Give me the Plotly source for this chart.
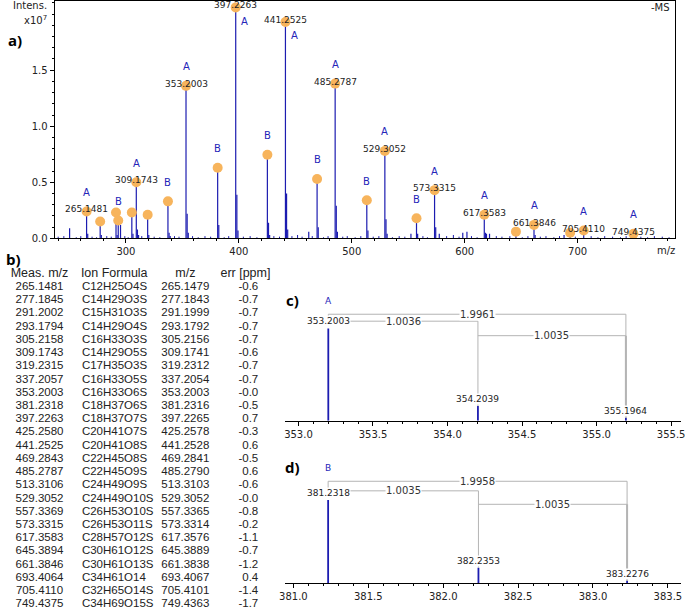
import plotly.graph_objects as go

W, H = 685, 616

# ---------------- Panel a: full spectrum (intensity x10^7) ----------------
peak_mz = [265.1481, 277.1845, 291.2002, 293.1794, 305.2158, 309.1743, 319.2315,
           337.2057, 353.2003, 381.2318, 397.2263, 425.2580, 441.2525, 469.2843,
           485.2787, 513.3106, 529.3052, 557.3369, 573.3315, 617.3583, 645.3894,
           661.3846, 693.4064, 705.4110, 749.4375]
peak_int = [0.24, 0.15, 0.23, 0.16, 0.23, 0.50, 0.21, 0.33, 1.36, 0.63, 2.06, 0.745,
            1.93, 0.53, 1.38, 0.34, 0.78, 0.18, 0.43, 0.21, 0.06, 0.12, 0.05, 0.07, 0.04]
peak_series = ["A", "", "", "B", "", "A", "", "B", "A", "B", "A", "B", "A", "B",
               "A", "B", "A", "B", "A", "A", "", "A", "", "A", "A"]

# isotope / minor peaks
minor_mz = [250.1, 266.15, 278.19, 292.2, 295.2, 306.22, 310.18, 311.17, 320.23,
            338.21, 339.2, 354.20, 355.2, 382.23, 398.23, 399.22, 426.26, 427.25,
            442.26, 443.25, 461.9, 470.29, 486.28, 487.27, 514.31, 530.31, 531.3,
            552.4, 558.34, 574.34, 577.5, 598.3, 602.0, 618.36, 619.3, 622.0, 662.39,
            688.0]
minor_int = [0.09, 0.04, 0.03, 0.03, 0.12, 0.04, 0.08, 0.03, 0.03,
             0.05, 0.02, 0.22, 0.05, 0.12, 0.39, 0.07, 0.14, 0.03,
             0.40, 0.08, 0.06, 0.10, 0.29, 0.06, 0.07, 0.17, 0.04,
             0.04, 0.04, 0.10, 0.04, 0.05, 0.06, 0.05, 0.04, 0.04, 0.03,
             0.03]

noise_mz = [240, 245, 256, 260, 270, 274, 283, 287, 299, 302, 314, 325, 330, 343,
            347, 359, 364, 370, 375, 387, 391, 404, 410, 416, 431, 436, 447, 452,
            456, 465, 475, 479, 492, 496, 503, 508, 519, 524, 536, 542, 547, 563,
            567, 584, 590, 595, 606, 611, 628, 633, 640, 651, 656, 667, 672, 679,
            684, 698, 712, 718, 724, 731, 738, 743, 756, 762, 768, 775, 781]
noise_int = [0.015, 0.02, 0.01, 0.02, 0.015, 0.01, 0.02, 0.015, 0.02, 0.01, 0.02,
             0.015, 0.01, 0.02, 0.015, 0.02, 0.01, 0.02, 0.015, 0.01, 0.02, 0.015,
             0.02, 0.01, 0.02, 0.015, 0.02, 0.03, 0.015, 0.02, 0.01, 0.02, 0.015,
             0.02, 0.01, 0.02, 0.015, 0.02, 0.01, 0.02, 0.015, 0.02, 0.01, 0.02,
             0.03, 0.015, 0.02, 0.01, 0.02, 0.015, 0.02, 0.01, 0.02, 0.015, 0.02,
             0.01, 0.02, 0.015, 0.02, 0.01, 0.02, 0.015, 0.01, 0.02, 0.015, 0.01,
             0.02, 0.015, 0.01]

a_xticks = [300, 400, 500, 600, 700]
a_yticks = [0.0, 0.5, 1.0, 1.5]

# ---------------- Panel b: table ----------------
ion_formula = ["C12H25O4S", "C14H29O3S", "C15H31O3S", "C14H29O4S", "C16H33O3S",
               "C14H29O5S", "C17H35O3S", "C16H33O5S", "C16H33O6S", "C18H37O6S",
               "C18H37O7S", "C20H41O7S", "C20H41O8S", "C22H45O8S", "C22H45O9S",
               "C24H49O9S", "C24H49O10S", "C26H53O10S", "C26H53O11S", "C28H57O12S",
               "C30H61O12S", "C30H61O13S", "C34H61O14", "C32H65O14S", "C34H69O15S"]
calc_mz = [265.1479, 277.1843, 291.1999, 293.1792, 305.2156, 309.1741, 319.2312,
           337.2054, 353.2003, 381.2316, 397.2265, 425.2578, 441.2528, 469.2841,
           485.2790, 513.3103, 529.3052, 557.3365, 573.3314, 617.3576, 645.3889,
           661.3838, 693.4067, 705.4101, 749.4363]
err_ppm = ["-0.6", "-0.7", "-0.7", "-0.7", "-0.7", "-0.6", "-0.7", "-0.7", "-0.0",
           "-0.5", "0.7", "-0.3", "0.6", "-0.5", "0.6", "-0.6", "-0.0", "-0.8",
           "-0.2", "-1.1", "-0.7", "-1.2", "0.4", "-1.4", "-1.7"]
table_headers = ["Meas. m/z", "Ion Formula", "m/z", "err [ppm]"]

# ---------------- Panels c, d: isotope patterns (relative intensity) ----------------
c_mz = [353.2003, 354.2039, 355.1964]
c_int = [100, 16, 3.5]
c_label = "A"
c_diff = ["1.9961", "1.0036", "1.0035"]
d_mz = [381.2318, 382.2353, 383.2276]
d_int = [100, 18.7, 2.7]
d_label = "B"
d_diff = ["1.9958", "1.0035", "1.0035"]
c_xticks = [353.0, 353.5, 354.0, 354.5, 355.0, 355.5]
d_xticks = [381.0, 381.5, 382.0, 382.5, 383.0, 383.5]

# ---------------- styles ----------------
BLUE = "#1c1cb0"
LABEL_BLUE = "#2424b8"
ORANGE = "#f7b45c"
GRAY = "#b4b4b4"
TXT = "#222222"
SPEC_FONT = "DejaVu Sans"
TAB_FONT = "Liberation Sans"


def px_x(p):
    return p / W


def px_y(p):
    return 1 - p / H


def sticks(mzs, ints):
    xs, ys = [], []
    for m, h in zip(mzs, ints):
        xs += [m, m, None]
        ys += [0, h, None]
    return xs, ys


fig = go.Figure()

# ---- panel a traces
nx, ny = sticks(noise_mz, noise_int)
fig.add_trace(go.Scatter(x=nx, y=ny, mode="lines", line=dict(color=BLUE, width=1),
                         xaxis="x", yaxis="y", hoverinfo="skip"))
mx, my = sticks(minor_mz, minor_int)
fig.add_trace(go.Scatter(x=mx, y=my, mode="lines", line=dict(color=BLUE, width=1.2),
                         xaxis="x", yaxis="y", hoverinfo="skip"))
px_, py_ = sticks(peak_mz, peak_int)
fig.add_trace(go.Scatter(x=px_, y=py_, mode="lines", line=dict(color=BLUE, width=1.2),
                         xaxis="x", yaxis="y", hoverinfo="skip"))
fig.add_trace(go.Scatter(x=peak_mz, y=peak_int, mode="markers",
                         marker=dict(color=ORANGE, size=10, line=dict(width=0)),
                         xaxis="x", yaxis="y"))

annotations = []
for m, h, s in zip(peak_mz, peak_int, peak_series):
    if s == "A":
        annotations.append(dict(x=m, y=h, xref="x", yref="y", text=f"{m:.4f}",
                                showarrow=False, yshift=2,
                                font=dict(family=SPEC_FONT, size=9, color=TXT)))
    if s:
        big = h > 1.8
        annotations.append(dict(x=m, y=h, xref="x", yref="y", text=s, showarrow=False,
                                xshift=9 if big else 0, yshift=-14 if big else 19,
                                font=dict(family=SPEC_FONT, size=10, color=LABEL_BLUE)))

# ---- panel c / d traces
for mzs, ints, xa, ya in [(c_mz, c_int, "x2", "y2"), (d_mz, d_int, "x3", "y3")]:
    sx, sy = sticks(mzs, ints)
    fig.add_trace(go.Scatter(x=sx, y=sy, mode="lines", line=dict(color=BLUE, width=1.8),
                             xaxis=xa, yaxis=ya, hoverinfo="skip"))

shapes = []


def isotope_panel(mzs, ints, diffs, label, xa, ya, lv02, lv01, lv12, lab_shift):
    ln = dict(color=GRAY, width=1)
    # bracket 0 -> 2
    shapes.append(dict(type="line", xref=xa, yref=ya, x0=mzs[0], x1=mzs[2], y0=lv02, y1=lv02, line=ln))
    shapes.append(dict(type="line", xref=xa, yref=ya, x0=mzs[0], x1=mzs[0], y0=lv02, y1=lv01, line=ln))
    shapes.append(dict(type="line", xref=xa, yref=ya, x0=mzs[2], x1=mzs[2], y0=lv02, y1=ints[2], line=ln))
    # bracket 0 -> 1
    shapes.append(dict(type="line", xref=xa, yref=ya, x0=mzs[0], x1=mzs[1], y0=lv01, y1=lv01, line=ln))
    shapes.append(dict(type="line", xref=xa, yref=ya, x0=mzs[1], x1=mzs[1], y0=lv01, y1=ints[1], line=ln))
    # bracket 1 -> 2
    shapes.append(dict(type="line", xref=xa, yref=ya, x0=mzs[1], x1=mzs[2], y0=lv12, y1=lv12, line=ln))
    shapes.append(dict(type="line", xref=xa, yref=ya, x0=mzs[2], x1=mzs[2], y0=lv12, y1=ints[2],
                       line=dict(color=GRAY, width=2)))
    for (i, j), txt, lv in zip([(0, 2), (0, 1), (1, 2)], diffs, [lv02, lv01, lv12]):
        annotations.append(dict(x=(mzs[i] + mzs[j]) / 2, y=lv, xref=xa, yref=ya, text=txt,
                                showarrow=False, bgcolor="white", borderpad=0,
                                font=dict(family=SPEC_FONT, size=10, color="#333333")))
    for m, h in zip(mzs, ints):
        annotations.append(dict(x=m, y=h, xref=xa, yref=ya, text=f"{m:.4f}", showarrow=False,
                                yshift=7, bgcolor="white", borderpad=0,
                                font=dict(family=SPEC_FONT, size=9, color=TXT)))
    annotations.append(dict(x=mzs[0], y=ints[0], xref=xa, yref=ya, text=label, showarrow=False,
                            yshift=lab_shift, font=dict(family=SPEC_FONT, size=9, color=LABEL_BLUE)))


isotope_panel(c_mz, c_int, c_diff, c_label, "x2", "y2", 115.4, 107.9, 92.2, 27)
isotope_panel(d_mz, d_int, d_diff, d_label, "x3", "y3", 122.6, 111.1, 94.9, 32)

# ---- panel b table (text on a hidden pixel-like axis, row index on y)
rows = list(range(len(peak_mz)))
tfont = dict(family=TAB_FONT, size=11.5, color=TXT)
fig.add_trace(go.Scatter(x=[34] * len(rows), y=rows, text=[f"{m:.4f}" for m in peak_mz],
                         mode="text", textposition="middle center", textfont=tfont,
                         xaxis="x4", yaxis="y4", hoverinfo="skip"))
fig.add_trace(go.Scatter(x=[77] * len(rows), y=rows, text=ion_formula,
                         mode="text", textposition="middle right", textfont=tfont,
                         xaxis="x4", yaxis="y4", hoverinfo="skip"))
fig.add_trace(go.Scatter(x=[182] * len(rows), y=rows, text=[f"{m:.4f}" for m in calc_mz],
                         mode="text", textposition="middle center", textfont=tfont,
                         xaxis="x4", yaxis="y4", hoverinfo="skip"))
fig.add_trace(go.Scatter(x=[256] * len(rows), y=rows, text=err_ppm,
                         mode="text", textposition="middle left", textfont=tfont,
                         xaxis="x4", yaxis="y4", hoverinfo="skip"))
hfont = dict(family=TAB_FONT, size=12.5, color=TXT)
fig.add_trace(go.Scatter(x=[34, 182, 243], y=[-1, -1, -1],
                         text=[table_headers[0], table_headers[2], table_headers[3]],
                         mode="text", textposition="middle center", textfont=hfont,
                         xaxis="x4", yaxis="y4", hoverinfo="skip"))
fig.add_trace(go.Scatter(x=[76], y=[-1], text=[table_headers[1]],
                         mode="text", textposition="middle right", textfont=hfont,
                         xaxis="x4", yaxis="y4", hoverinfo="skip"))

# ---- texts
pfont = dict(family="Open Sans", size=15, color="black", weight="bold")
for txt, x, y in [("a)", 9, 40), ("b)", 8, 262), ("c)", 291, 303), ("d)", 291, 472)]:
    annotations.append(dict(x=px_x(x), y=px_y(y), xref="paper", yref="paper", text=txt,
                            showarrow=False, xanchor="center", yanchor="middle", font=pfont))
sfont = dict(family=SPEC_FONT, size=10, color=TXT)
annotations += [
    dict(x=px_x(44), y=px_y(6), xref="paper", yref="paper", text="Intens.", showarrow=False,
         xanchor="right", yanchor="middle", font=sfont),
    dict(x=px_x(44), y=px_y(20), xref="paper", yref="paper", text="x10<sup>7</sup>",
         showarrow=False, xanchor="right", yanchor="middle", font=sfont),
    dict(x=px_x(676), y=px_y(8), xref="paper", yref="paper", text="-MS", showarrow=False,
         xanchor="right", yanchor="middle", font=sfont),
    dict(x=px_x(670), y=px_y(253), xref="paper", yref="paper", text="m/z", showarrow=False,
         xanchor="center", yanchor="middle", font=sfont),
]

tickfont = dict(family=SPEC_FONT, size=10, color=TXT)
common_x = dict(showgrid=False, zeroline=False, showline=True, linecolor="black", linewidth=1,
                ticks="outside", ticklen=4, tickcolor="black", tickfont=tickfont,
                ticklabeloverflow="allow")

fig.update_layout(
    width=W, height=H, margin=dict(l=0, r=0, t=0, b=0),
    paper_bgcolor="white", plot_bgcolor="rgba(0,0,0,0)", showlegend=False,
    xaxis=dict(domain=[px_x(49.3), px_x(679.3)], range=[236.8, 786.6], tickvals=a_xticks,
               mirror=True, anchor="y",
               minor=dict(dtick=20, ticks="outside", ticklen=2, tickcolor="black"), **common_x),
    yaxis=dict(domain=[px_y(240.7), px_y(1)], range=[0, 2.117], tickvals=a_yticks,
               tickformat=".1f", showgrid=False, zeroline=False, showline=True,
               linecolor="black", mirror=True, ticks="outside", ticklen=4, tickcolor="black",
               tickfont=tickfont, anchor="x",
               minor=dict(dtick=0.1, ticks="outside", ticklen=2, tickcolor="black")),
    xaxis2=dict(domain=[px_x(283), 1.0], range=[352.909, 355.566], tickvals=c_xticks,
                tickformat=".1f", anchor="y2",
                minor=dict(dtick=0.1, ticks="outside", ticklen=2, tickcolor="black"), **common_x),
    yaxis2=dict(domain=[px_y(425), px_y(290)], range=[0, 144.7], visible=False, anchor="x2"),
    xaxis3=dict(domain=[px_x(283), 1.0], range=[380.943, 383.5875], tickvals=d_xticks,
                tickformat=".1f", anchor="y3",
                minor=dict(dtick=0.1, ticks="outside", ticklen=2, tickcolor="black"), **common_x),
    yaxis3=dict(domain=[px_y(589), px_y(455)], range=[0, 159.5], visible=False, anchor="x3"),
    xaxis4=dict(domain=[0, 1], range=[0, W], visible=False, anchor="y4"),
    yaxis4=dict(domain=[0, 1], range=[24.42, -21.72], visible=False, anchor="x4"),
    annotations=annotations, shapes=shapes,
)

fig.write_html("out.html", config={"displayModeBar": False},
               post_script="document.body.style.margin='0';document.body.style.overflow='hidden';")
